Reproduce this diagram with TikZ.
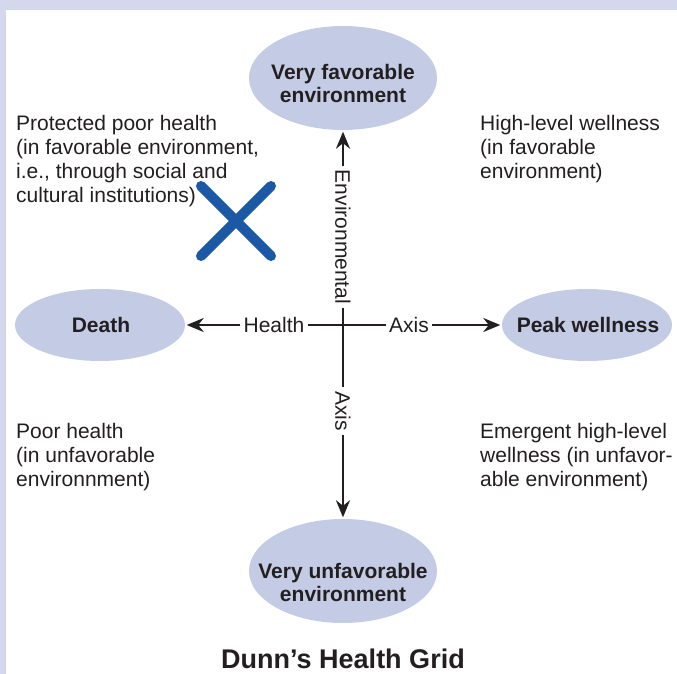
\documentclass[tikz,border=0pt]{standalone}
\usepackage{fontspec}
\setmainfont{Liberation Sans}
\usetikzlibrary{shapes.geometric,arrows.meta}
\definecolor{band}{HTML}{D3D8EC}
\definecolor{ovalfill}{HTML}{C4CBE5}
\definecolor{ink}{HTML}{231F20}
\definecolor{xblue}{HTML}{1B58A5}
\begin{document}
\begin{tikzpicture}[x=1pt,y=-1pt,
  oval/.style={ellipse, fill=ovalfill, draw=none, inner sep=0pt},
  ovaltext/.style={inner sep=0pt, text=ink, align=center, font=\bfseries\fontsize{21}{23}\selectfont},
  quad/.style={anchor=north west, inner sep=0pt, text=ink, align=left, font=\fontsize{21}{24}\selectfont},
  axlabel/.style={inner xsep=3pt, inner ysep=0pt, fill=white, text=ink, font=\fontsize{21}{24}\selectfont},
  axisline/.style={line width=2pt, draw=ink},
  tip/.style={-{Stealth[length=17pt,width=14pt]}, shorten >=1.5pt}
]
\useasboundingbox (0,0) rectangle (677,674);
\fill[white] (0,0) rectangle (677,674);
\fill[band] (0,0) rectangle (677,10);
\fill[band] (0,0) rectangle (6,674);

% ovals
\node[oval, minimum width=188pt, minimum height=104pt] (fav) at (343,78) {};
\node[ovaltext] (favt) at (343,83) {Very favorable\\environment};
\node[oval, minimum width=188pt, minimum height=104pt] (unfav) at (343,571) {};
\node[ovaltext] (unfavt) at (343,582) {Very unfavorable\\environment};
\node[oval, minimum width=170pt, minimum height=72pt] (death) at (100,325) {};
\node[ovaltext] (deatht) at (101,325) {Death};
\node[oval, minimum width=170pt, minimum height=72pt] (peak) at (587,325) {};
\node[ovaltext] (peakt) at (588,325) {Peak wellness};

% axis labels
\coordinate (ctr) at (343,325);
\node[axlabel] (health) at (274,325) {Health};
\node[axlabel] (haxis) at (409,325) {Axis};
\node[axlabel, rotate=-90, inner xsep=4pt] (env) at (343,237) {Environmental};
\node[axlabel, rotate=-90, inner xsep=4pt] (vaxis) at (343,411) {Axis};

% axes
\draw[axisline, tip] (health) -- (death);
\draw[axisline] (health) -- (haxis);
\draw[axisline, tip] (haxis) -- (peak);
\draw[axisline, tip] (env) -- (fav);
\draw[axisline] (env) -- (vaxis);
\draw[axisline, tip] (vaxis) -- (unfav);

% quadrant texts
\node[quad] (q1) at (16,115) {Protected poor health\\(in favorable environment,\\i.e., through social and\\cultural institutions)};
\node[quad] (q2) at (480,115) {High-level wellness\\(in favorable\\environment)};
\node[quad] (q3) at (16,423) {Poor health\\(in unfavorable\\environnment)};
\node[quad] (q4) at (480,423) {Emergent high-level\\wellness (in unfavor-\\able environment)};

% blue cross
\draw[xblue, line width=10pt, line cap=round] (201,186) -- (271,256);
\draw[xblue, line width=10pt, line cap=round] (271,186) -- (201,256);

% title
\node[inner sep=0pt, anchor=base, text=ink, font=\bfseries\fontsize{27}{30}\selectfont] (title) at (343,668) {Dunn’s Health Grid};
\end{tikzpicture}
\end{document}
